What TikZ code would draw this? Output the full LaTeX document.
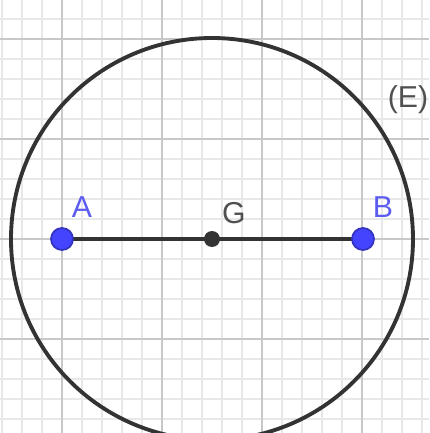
\documentclass[tikz,border=0pt]{standalone}
\usepackage{fontspec}
\setmainfont{Liberation Sans}
\usetikzlibrary{positioning}
\definecolor{ptblue}{HTML}{4444FF}
\definecolor{lblblue}{HTML}{5C5CF0}
\definecolor{ggdark}{HTML}{333333}
\definecolor{lblgray}{HTML}{505050}
\definecolor{majorgray}{HTML}{C8C8C8}
\definecolor{minorgray}{HTML}{E8E8E8}

\begin{document}
\begin{tikzpicture}[
  minorline/.style={minorgray, line width=0.5pt},
  majorline/.style={majorgray, line width=0.7pt},
  bluept/.style={circle, fill=ptblue, draw=ptblue!75!black, line width=0.5pt, minimum size=0.22cm, inner sep=0pt},
  darkpt/.style={circle, fill=ggdark, minimum size=0.16cm, inner sep=0pt},
  lbl/.style={font=\fontsize{8.6}{10}\selectfont, inner sep=0pt}
]
\clip (-2.12,-1.94) rectangle (2.17,2.39);
\fill[white] (-2.12,-1.94) rectangle (2.17,2.39);
% grid
\foreach \x in {-2.1,-1.9,...,2.2} \draw[minorline] (\x,-1.94) -- (\x,2.39);
\foreach \y in {-1.8,-1.6,...,2.3} \draw[minorline] (-2.12,\y) -- (2.17,\y);
\foreach \x in {-1.5,-0.5,0.5,1.5} \draw[majorline] (\x,-1.94) -- (\x,2.39);
\foreach \y in {-1,0,1,2} \draw[majorline] (-2.12,\y) -- (2.17,\y);
% ellipse (E)
\draw[ggdark, line width=1.1pt] (0,0) circle (2.01);
\node[lbl, lblgray] (Elbl) at (1.96,1.39) {(E)};
% points
\coordinate (G) at (0,0);
\coordinate (A) at (-1.5,0);
\coordinate (B) at (1.51,0);
\draw[ggdark, line width=0.9pt] (A) -- (B);
\node[bluept] (Apt) at (A) {};
\node[bluept] (Bpt) at (B) {};
\node[darkpt] (Gpt) at (G) {};
\node[lbl, lblblue] (Albl) at (-1.3,0.32) {A};
\node[lbl, lblgray] (Glbl) at (0.22,0.26) {G};
\node[lbl, lblblue] (Blbl) at (1.71,0.32) {B};
\end{tikzpicture}
\end{document}
